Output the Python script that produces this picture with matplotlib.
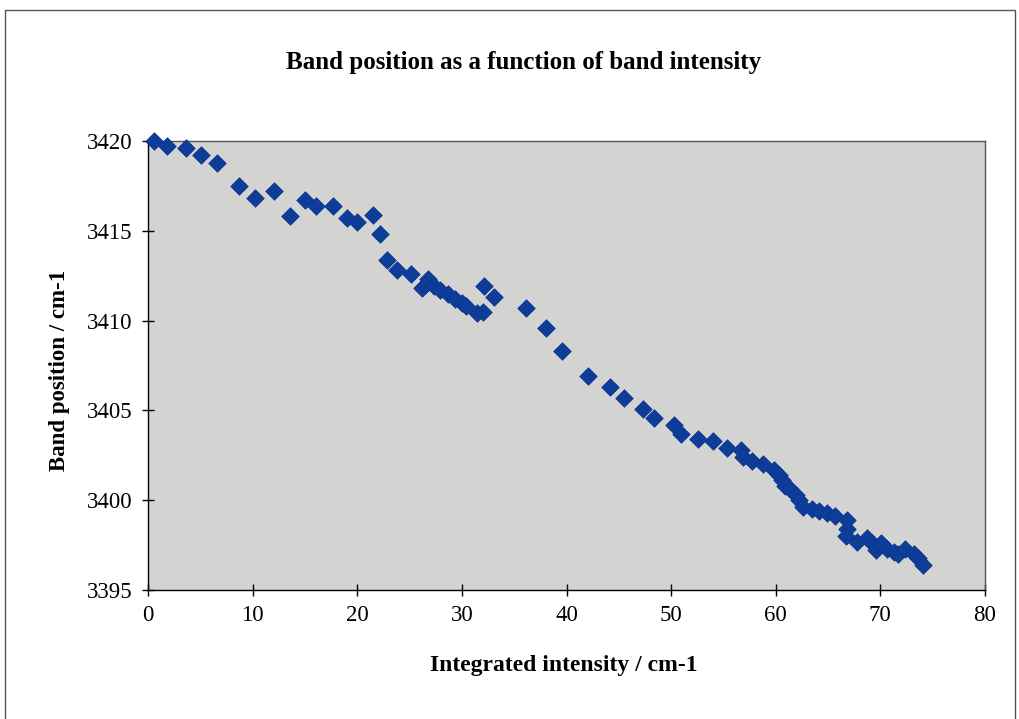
import matplotlib
matplotlib.use("Agg")
import matplotlib.pyplot as plt
from matplotlib.patches import Rectangle
import numpy as np

intensity = [0.6, 1.8, 3.6, 5.1, 6.6, 8.7, 10.2, 12.0, 13.6, 15.0, 16.1, 17.7, 19.0, 20.0, 21.5,
             22.2, 22.8, 23.8, 25.1, 26.2, 26.8, 26.5, 27.3, 27.9, 28.7, 29.3, 30.0, 30.4, 31.4,
             32.0, 32.1, 33.1, 36.1, 38.0, 39.6, 42.1, 44.2, 45.5, 47.3, 48.4, 50.3, 50.9,
             52.6, 54.0, 55.3, 56.7, 56.9, 57.7, 58.8, 59.8, 60.3, 60.6, 60.9, 61.4, 61.9,
             62.2, 62.6, 63.5, 64.1, 64.9, 65.7, 66.8, 66.8, 66.7, 67.8, 68.7, 69.2, 69.6,
             70.1, 70.6, 71.3, 71.7, 72.4, 73.2, 73.6, 74.1]
position = [3420.0, 3419.7, 3419.6, 3419.2, 3418.8, 3417.5, 3416.8, 3417.2, 3415.8, 3416.7,
            3416.4, 3416.4, 3415.7, 3415.5, 3415.9, 3414.8, 3413.4, 3412.8, 3412.6, 3411.8,
            3412.3, 3412.0, 3411.9, 3411.7, 3411.5, 3411.2, 3411.0, 3410.8, 3410.4, 3410.5,
            3411.9, 3411.3, 3410.7, 3409.6, 3408.3, 3406.9, 3406.3, 3405.7, 3405.1, 3404.6,
            3404.2, 3403.7, 3403.4, 3403.3, 3402.9, 3402.8, 3402.4, 3402.2, 3402.0, 3401.7,
            3401.4, 3401.1, 3400.8, 3400.6, 3400.3, 3400.0, 3399.6, 3399.5, 3399.4, 3399.3,
            3399.1, 3398.9, 3398.4, 3398.0, 3397.7, 3397.9, 3397.6, 3397.2, 3397.6, 3397.3,
            3397.1, 3397.0, 3397.3, 3397.0, 3396.8, 3396.4]

xticks = [0, 10, 20, 30, 40, 50, 60, 70, 80]
yticks = [3395, 3400, 3405, 3410, 3415, 3420]

plt.rcParams['font.family'] = ['Liberation Serif', 'DejaVu Serif']

fig = plt.figure(figsize=(10.2, 7.19), dpi=100)
fig.patch.set_facecolor('white')
ax = fig.add_axes([148/1020, 1 - 590/719, (985-148)/1020, (590-141)/719])
ax.set_facecolor('#d3d3d1')
ax.scatter(intensity, position, marker='D', s=80, color='#0d3d98', edgecolors='#0a3590',
           linewidths=0.5, zorder=3, clip_on=False)
ax.set_xlim(0, 80)
ax.set_ylim(3395, 3420)
ax.set_xticks(xticks)
ax.set_yticks(yticks)
ax.tick_params(direction='inout', length=8, width=1, labelsize=16.5, colors='black', pad=7)
for s in ax.spines.values():
    s.set_color('#555555')
    s.set_linewidth(1.0)
ax.spines['left'].set_color('black')
ax.spines['bottom'].set_color('black')

fig.text(0.513, 1 - 62/719, 'Band position as a function of band intensity', ha='center', va='center',
         fontsize=18, fontweight='bold')
fig.text(0.553, 1 - 666/719, 'Integrated intensity / cm-1', ha='center', va='center',
         fontsize=17, fontweight='bold')
fig.text(60/1020, 1 - 370/719, 'Band position / cm-1', ha='center', va='center', rotation=90,
         fontsize=16.5, fontweight='bold')

fig.add_artist(Rectangle((5/1020, -0.02), 1010/1020, 1.0 - 10/719 + 0.02, transform=fig.transFigure,
                         fill=False, edgecolor='#555555', linewidth=1.0))

fig.savefig('out.png', dpi=100)
